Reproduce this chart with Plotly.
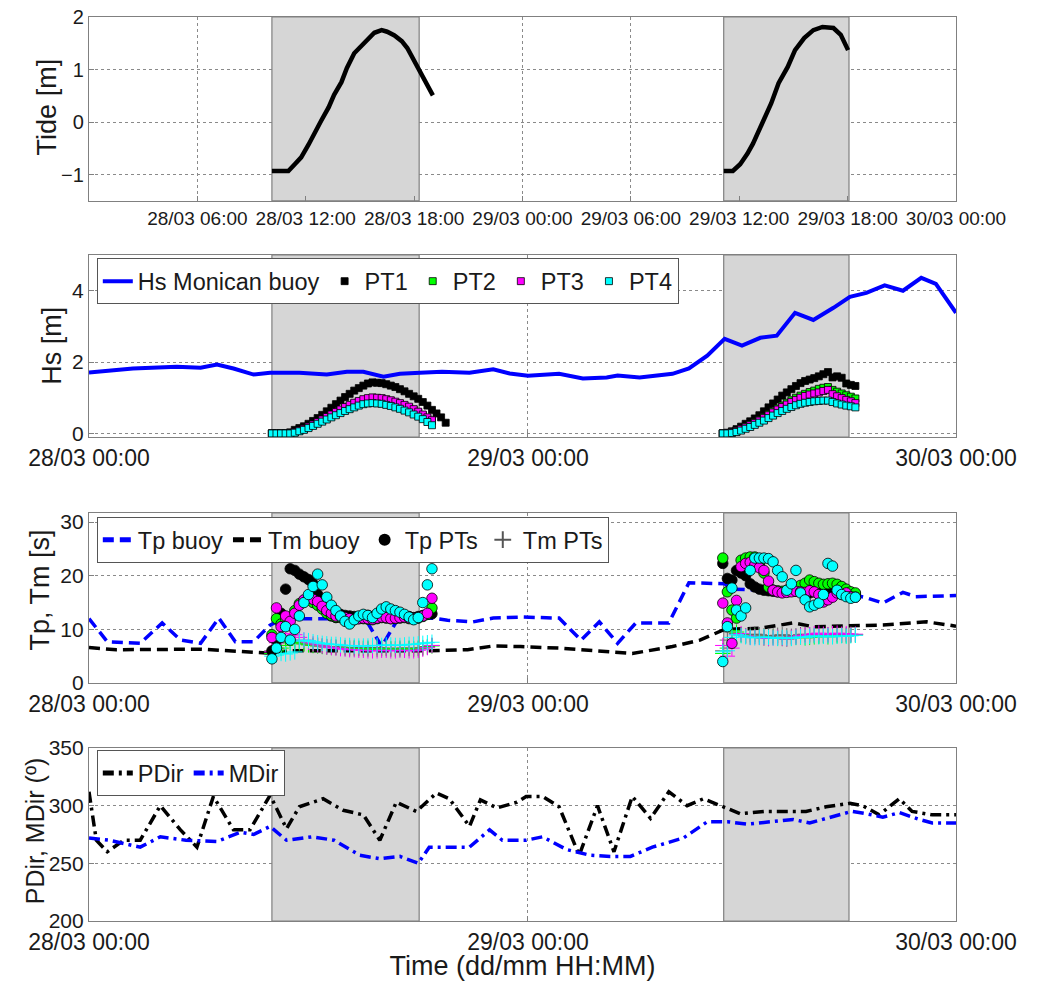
import numpy as np
import plotly.graph_objects as go

# ---------------- time base (hours since 28/03 00:00) ----------------
X_END = 47.4
EVENT_WINDOWS = [(10.0, 18.05), (34.7, 41.55)]

# PT sampling (every 15 min during each field session)
T_HS_1 = list(np.arange(10.0, 19.51, 0.25))
T_HS_2 = list(np.arange(34.65, 41.91, 0.25))
T_PER_1 = list(np.arange(10.0, 18.76, 0.25))
T_PER_2 = T_HS_2

# ---------------- tide ----------------
tide_t1 = [10.0, 10.5, 10.9, 11.25, 11.6, 12.0, 12.3, 12.7, 13.1, 13.4, 13.8, 14.1, 14.5,
           14.9, 15.25, 15.6, 16.0, 16.3, 16.7, 17.1, 17.4, 17.7, 18.0, 18.4, 18.8]
tide_v1 = [-0.93, -0.93, -0.93, -0.8, -0.67, -0.43, -0.22, 0.03, 0.28, 0.52, 0.76, 1.03, 1.31,
           1.46, 1.6, 1.7, 1.75, 1.72, 1.65, 1.54, 1.41, 1.22, 1.0, 0.76, 0.51]
tide_t2 = [34.7, 35.2, 35.6, 36.0, 36.3, 36.8, 37.3, 37.7, 38.2, 38.6, 39.1, 39.6, 40.1, 40.7, 41.1, 41.5]
tide_v2 = [-0.93, -0.93, -0.8, -0.6, -0.41, -0.03, 0.36, 0.74, 1.05, 1.37, 1.6, 1.75, 1.81, 1.79, 1.66, 1.37]

# ---------------- Hs ----------------
hs_buoy_t = [0.0, 2.4, 4.8, 6.1, 7.0, 7.9, 9.0, 9.9, 11.5, 13.0, 14.1, 15.0, 16.1, 17.0, 18.1, 19.3,
             20.8, 22.1, 23.0, 24.0, 25.7, 27.0, 28.3, 28.9, 30.1, 31.9, 32.8, 33.8, 34.75, 35.7,
             36.7, 37.6, 38.6, 39.6, 40.7, 41.6, 42.5, 43.5, 44.5, 45.5, 46.3, 47.4]
hs_buoy = [1.71, 1.82, 1.87, 1.84, 1.93, 1.82, 1.65, 1.70, 1.70, 1.65, 1.73, 1.73, 1.59, 1.67, 1.70,
           1.73, 1.70, 1.80, 1.68, 1.62, 1.67, 1.54, 1.57, 1.62, 1.57, 1.67, 1.82, 2.18, 2.65, 2.46,
           2.68, 2.74, 3.38, 3.18, 3.52, 3.83, 3.94, 4.15, 4.0, 4.36, 4.19, 3.38]

hs_pt1_a = [0, 0, 0, 0, 0.03, 0.1, 0.15, 0.2, 0.27, 0.35, 0.43, 0.52, 0.62, 0.72, 0.82, 0.92, 1.02,
            1.11, 1.2, 1.27, 1.34, 1.4, 1.43, 1.42, 1.41, 1.38, 1.34, 1.3, 1.24, 1.18, 1.11, 1.04,
            0.97, 0.88, 0.78, 0.66, 0.56, 0.45, 0.3]
hs_pt2_a = [0, 0, 0, 0, 0, 0.03, 0.07, 0.12, 0.18, 0.24, 0.3, 0.37, 0.44, 0.51, 0.58, 0.65, 0.71,
            0.77, 0.83, 0.88, 0.92, 0.95, 0.97, 0.97, 0.95, 0.93, 0.9, 0.86, 0.82, 0.77, 0.72, 0.66,
            0.59, 0.51, 0.43, 0.35]
hs_pt3_a = [0, 0, 0, 0, 0, 0.04, 0.08, 0.13, 0.19, 0.25, 0.32, 0.39, 0.46, 0.53, 0.6, 0.67, 0.74,
            0.8, 0.86, 0.91, 0.96, 0.99, 1.01, 1.0, 0.99, 0.96, 0.93, 0.89, 0.85, 0.8, 0.75, 0.68,
            0.61, 0.53, 0.45, 0.37]
hs_pt4_a = [0, 0, 0, 0, 0, 0.02, 0.06, 0.1, 0.15, 0.21, 0.27, 0.33, 0.39, 0.45, 0.51, 0.57, 0.63,
            0.68, 0.73, 0.78, 0.82, 0.84, 0.85, 0.84, 0.83, 0.8, 0.77, 0.73, 0.69, 0.64, 0.59, 0.53,
            0.47, 0.4, 0.32, 0.23]

hs_pt1_b = [0, 0.02, 0.06, 0.12, 0.19, 0.27, 0.34, 0.42, 0.51, 0.62, 0.73, 0.84, 0.95, 1.06, 1.15,
            1.24, 1.33, 1.41, 1.47, 1.51, 1.55, 1.6, 1.66, 1.72, 1.57, 1.6, 1.56, 1.4, 1.36, 1.33]
hs_pt2_b = [0, 0.01, 0.04, 0.08, 0.13, 0.19, 0.25, 0.31, 0.38, 0.46, 0.54, 0.62, 0.7, 0.78, 0.86,
            0.93, 1.0, 1.06, 1.11, 1.16, 1.2, 1.25, 1.28, 1.3, 1.22, 1.17, 1.12, 1.07, 1.03, 0.98]
hs_pt3_b = [0, 0.01, 0.03, 0.07, 0.12, 0.17, 0.23, 0.29, 0.36, 0.43, 0.51, 0.59, 0.67, 0.74, 0.81,
            0.88, 0.94, 1.0, 1.05, 1.09, 1.12, 1.15, 1.19, 1.22, 1.1, 1.04, 0.99, 0.94, 0.9, 0.85]
hs_pt4_b = [0, 0, 0.01, 0.04, 0.08, 0.13, 0.18, 0.24, 0.3, 0.36, 0.43, 0.5, 0.57, 0.63, 0.69,
            0.74, 0.79, 0.83, 0.86, 0.88, 0.9, 0.91, 0.92, 0.92, 0.88, 0.84, 0.81, 0.78, 0.76, 0.73]

# ---------------- Tp / Tm ----------------
tp_buoy_t = [0.0, 1.0, 2.8, 4.0, 5.0, 6.1, 7.1, 8.0, 9.0, 9.9, 10.6, 15.1, 16.0, 16.9, 18.8, 19.6,
             21.0, 22.1, 23.6, 25.7, 26.9, 27.9, 28.9, 29.9, 31.7, 32.8, 34.75, 35.2, 37.0, 39.0,
             41.0, 41.8, 42.5, 43.4, 44.5, 45.2, 47.4]
tp_buoy = [12.0, 7.7, 7.4, 11.2, 8.0, 7.4, 12.1, 7.7, 7.7, 10.8, 12.0, 12.0, 6.8, 12.0, 12.1, 11.7,
           11.4, 12.1, 12.3, 12.1, 8.0, 11.4, 7.4, 11.2, 11.2, 18.7, 18.5, 17.5, 17.3, 17.2, 17.0,
           16.4, 15.9, 14.9, 16.9, 16.1, 16.3]
tm_buoy_t = [0.0, 1.5, 6.1, 9.7, 11.0, 18.3, 20.7, 22.1, 23.6, 25.7, 29.7, 31.9, 33.4, 34.75, 36.7,
             38.5, 39.6, 41.6, 43.4, 45.8, 47.4]
tm_buoy = [6.6, 6.2, 6.3, 5.6, 6.0, 6.0, 6.2, 6.9, 6.8, 6.5, 5.5, 6.8, 8.0, 10.0, 10.2, 11.2, 10.5,
           10.6, 10.8, 11.4, 10.6]

tp_pt1_a = [6.0, 8.0, 13.0, 17.5, 21.3, 21.0, 20.3, 19.8, 19.3, 18.5, 16.5, 15.0, 13.5, 12.5, 12.2,
            12.8, 12.6, 12.5, 12.4, 12.3, 12.5, 12.6, 12.4, 12.2, 12.3, 12.5, 12.6, 12.4, 12.3, 12.5,
            12.4, 12.2, 12.4, 12.6, 12.8, 12.9]
tp_pt2_a = [9.0, 12.0, 11.0, 12.0, 12.0, 13.5, 14.8, 15.4, 15.5, 15.0, 14.5, 13.8, 13.0, 12.6, 12.3,
            12.2, 12.0, 11.9, 11.9, 12.0, 12.0, 11.9, 11.8, 12.0, 12.2, 12.1, 12.0, 12.0, 12.1, 12.2,
            12.0, 11.9, 12.1, 12.4, 12.8, 14.0]
tp_pt3_a = [8.5, 14.0, 10.5, 12.5, 11.5, 13.0, 14.5, 15.5, 15.8, 15.6, 15.2, 14.3, 13.5, 13.0, 12.5,
            12.4, 12.2, 12.0, 11.8, 12.0, 12.1, 12.0, 11.9, 12.1, 12.3, 12.2, 12.0, 12.1, 12.2, 12.3,
            12.1, 12.0, 12.2, 12.5, 13.0, 15.8]
tp_pt4_a = [4.5, 6.5, 8.5, 10.5, 8.0, 10.0, 12.5, 15.0, 16.5, 18.0, 20.3, 18.3, 16.0, 14.5, 13.5,
            12.5, 11.5, 11.0, 11.8, 12.5, 12.8, 12.6, 12.2, 13.0, 13.8, 14.2, 13.8, 13.5, 13.2, 12.8,
            12.3, 11.8, 12.2, 15.0, 18.3, 21.3]

tm_pt1_a = [6.0, 6.5, 7.0, 7.5, 8.0, 7.8, 7.5, 7.3, 7.2, 7.0, 7.0, 6.9, 6.8, 6.8, 6.7, 6.7, 6.6, 6.6,
            6.6, 6.5, 6.5, 6.5, 6.6, 6.6, 6.5, 6.5, 6.4, 6.4, 6.5, 6.5, 6.5, 6.4, 6.5, 6.6, 6.8, 7.0]
tm_pt2_a = [5.5, 6.0, 6.5, 7.0, 7.5, 7.6, 7.5, 7.3, 7.1, 7.0, 6.9, 6.8, 6.7, 6.6, 6.6, 6.5, 6.5, 6.4,
            6.4, 6.4, 6.4, 6.3, 6.3, 6.3, 6.4, 6.4, 6.3, 6.3, 6.3, 6.4, 6.4, 6.3, 6.4, 6.5, 6.7, 6.9]
tm_pt3_a = [5.8, 7.5, 8.5, 9.2, 8.8, 9.0, 8.5, 8.0, 7.6, 7.3, 7.1, 6.9, 6.7, 6.6, 6.5, 6.4, 6.3, 6.2,
            6.2, 6.1, 6.1, 6.0, 6.0, 6.0, 6.1, 6.1, 6.0, 6.0, 6.1, 6.1, 6.0, 6.0, 6.1, 6.3, 6.6, 7.0]
tm_pt4_a = [5.0, 5.2, 5.5, 5.4, 5.6, 5.8, 7.8, 8.0, 7.9, 7.7, 7.5, 7.4, 7.3, 7.2, 7.2, 7.1, 7.0, 7.0,
            6.9, 6.9, 6.9, 6.9, 7.0, 7.0, 7.0, 7.1, 7.1, 7.0, 7.0, 7.1, 7.2, 7.2, 7.3, 7.4, 7.5, 7.6]

tp_pt1_b = [22.3, 19.5, 19.2, 21.0, 20.5, 20.0, 18.5, 17.9, 17.5, 17.3, 17.2, 17.1, 17.0, 17.0, 17.1,
            17.2, 17.1, 17.0, 16.9, 16.8, 17.0, 17.1, 17.0, 16.8, 16.7, 16.8, 16.9, 16.8, 16.7, 16.6]
tp_pt2_b = [23.3, 17.0, 13.6, 12.1, 22.9, 23.3, 23.5, 23.5, 22.0, 20.5, 17.9, 17.3, 17.2, 17.1, 17.3,
            17.5, 17.8, 18.2, 18.6, 19.2, 18.9, 18.6, 18.4, 18.5, 18.6, 18.4, 18.0, 17.5, 17.0, 16.8]
tp_pt3_b = [14.9, 11.2, 7.4, 15.4, 21.7, 22.3, 22.5, 22.0, 21.5, 21.0, 19.0, 17.3, 17.0, 16.8, 16.9,
            17.0, 17.1, 17.0, 16.9, 17.2, 17.0, 16.5, 15.1, 15.5, 16.0, 16.8, 16.5, 16.8, 16.1, 16.0]
tp_pt4_b = [4.0, 10.5, 17.7, 13.6, 12.5, 14.0, 21.0, 23.3, 23.3, 23.3, 23.2, 22.6, 21.0, 19.8, 17.3,
            18.5, 21.0, 16.8, 15.5, 14.2, 14.5, 14.9, 16.5, 22.3, 21.8, 17.3, 16.5, 16.1, 15.8, 16.0]

tm_pt1_b = [6.0, 8.0, 9.5, 9.2, 9.0, 8.8, 9.0, 9.1, 9.0, 8.8, 8.7, 8.8, 8.9, 9.0, 8.8, 8.7, 8.8, 9.0,
            9.1, 9.0, 8.9, 8.8, 8.9, 9.0, 9.1, 9.0, 8.9, 9.0, 9.1, 9.0]
tm_pt2_b = [5.5, 6.5, 9.8, 9.5, 9.0, 8.8, 8.6, 8.7, 8.6, 8.4, 8.3, 8.5, 8.4, 8.3, 8.2, 8.4, 8.5, 8.6,
            8.4, 8.5, 8.6, 8.7, 8.8, 8.6, 8.7, 8.8, 8.9, 8.8, 8.9, 9.0]
tm_pt3_b = [7.0, 5.0, 6.5, 9.0, 9.2, 8.8, 8.5, 8.6, 8.5, 8.4, 8.3, 8.4, 8.5, 8.3, 8.2, 8.5, 8.6, 8.8,
            8.9, 9.0, 9.2, 9.3, 9.1, 9.0, 9.2, 9.3, 9.1, 9.2, 9.0, 9.1]
tm_pt4_b = [5.8, 6.0, 8.5, 9.0, 8.8, 8.6, 8.5, 8.4, 8.5, 8.6, 8.5, 8.4, 8.3, 8.5, 8.4, 8.3, 8.5, 8.6,
            8.5, 8.7, 8.8, 8.6, 8.7, 8.8, 8.6, 8.7, 8.8, 8.7, 8.8, 8.9]

# ---------------- directions ----------------
pdir_t = [0.0, 0.4, 1.0, 1.9, 2.8, 3.9, 5.0, 5.9, 6.8, 7.9, 8.8, 9.9, 10.8, 11.5, 12.8, 13.9, 15.0,
          15.9, 16.8, 17.9, 19.0, 19.7, 20.8, 21.4, 22.3, 23.4, 23.9, 24.8, 25.7, 26.8, 27.8, 28.7,
          29.7, 30.7, 31.7, 32.7, 33.6, 34.5, 35.6, 37.0, 39.2, 40.3, 41.6, 42.3, 43.2, 44.3, 45.0,
          46.1, 47.4]
pdir = [312, 270, 260, 270, 270, 300, 279, 264, 308, 279, 279, 309, 280, 299, 306, 296, 292, 270,
        303, 295, 311, 306, 282, 305, 298, 303, 308, 308, 299, 257, 300, 260, 308, 289, 312, 300,
        306, 300, 293, 295, 295, 299, 302, 300, 292, 306, 295, 292, 292]
mdir_t = [0.0, 1.1, 2.8, 3.9, 5.3, 7.0, 8.3, 9.0, 9.9, 10.8, 12.2, 13.4, 14.8, 15.9, 17.0, 18.0, 18.6,
          19.4, 20.8, 21.9, 22.6, 23.9, 24.8, 26.1, 27.4, 28.5, 29.6, 30.8, 32.5, 33.8, 34.9, 36.0,
          37.4, 38.5, 39.4, 40.5, 41.7, 42.5, 43.4, 44.3, 45.4, 46.1, 47.4]
mdir = [272, 270, 264, 273, 270, 269, 277, 275, 282, 270, 273, 270, 257, 254, 256, 250, 264, 264, 264,
        279, 270, 270, 273, 262, 257, 256, 256, 264, 272, 286, 286, 284, 286, 288, 285, 290, 295, 293,
        290, 294, 288, 285, 285]

# ---------------- tick labels ----------------
top_ticktext = ["28/03 06:00", "28/03 12:00", "28/03 18:00", "29/03 00:00",
                "29/03 06:00", "29/03 12:00", "29/03 18:00", "30/03 00:00"]
# eight date ticks spread evenly up to the right-hand limit
top_tickvals = [X_END * (k + 1) / len(top_ticktext) for k in range(len(top_ticktext))]
day_tickvals = [0, 24, X_END]
day_ticktext = ["28/03 00:00", "29/03 00:00", "30/03 00:00"]

# ---------------- styling ----------------
FONT = "Liberation Sans, Arial, sans-serif"
TXT = "#1a1a1a"
BLUE = "#0000ff"
PT_COLORS = ["#000000", "#00ff00", "#ff00ff", "#00ffff"]
PT_NAMES = ["PT1", "PT2", "PT3", "PT4"]

Y_RANGES = {"": [-1.5, 2], "2": [-0.1, 5], "3": [0, 31.7], "4": [200, 350]}


def both(a_t, a_v, b_t, b_v):
    """Concatenate the two sessions of one sensor."""
    return list(a_t[:len(a_v)]) + list(b_t[:len(b_v)]), list(a_v) + list(b_v)


fig = go.Figure()

# shaded field sessions, drawn first so they sit above the grid but under the data
for ax, (lo, hi) in Y_RANGES.items():
    for x0, x1 in EVENT_WINDOWS:
        fig.add_trace(go.Scatter(x=[x0, x1, x1, x0, x0], y=[lo, lo, hi, hi, lo], mode="lines",
                                 fill="toself", fillcolor="#d6d6d6",
                                 line=dict(color="#808080", width=1.2), hoverinfo="skip",
                                 showlegend=False, xaxis="x" + ax, yaxis="y" + ax))

# Panel 1: tide
for tt, vv in [(tide_t1, tide_v1), (tide_t2, tide_v2)]:
    fig.add_trace(go.Scatter(x=tt, y=vv, mode="lines", line=dict(color="black", width=4.5),
                             showlegend=False, xaxis="x", yaxis="y"))

# Panel 2: Hs
fig.add_trace(go.Scatter(x=hs_buoy_t, y=hs_buoy, mode="lines", name="Hs Monican buoy",
                         line=dict(color=BLUE, width=4), xaxis="x2", yaxis="y2", legend="legend"))
hs_sets = [(hs_pt1_a, hs_pt1_b), (hs_pt2_a, hs_pt2_b), (hs_pt3_a, hs_pt3_b), (hs_pt4_a, hs_pt4_b)]
for (a, b), col, nm in zip(hs_sets, PT_COLORS, PT_NAMES):
    xx, yy = both(T_HS_1, a, T_HS_2, b)
    fig.add_trace(go.Scatter(x=xx, y=yy, mode="markers", name=nm,
                             marker=dict(symbol="square", size=7, color=col,
                                         line=dict(color="black", width=0.8)),
                             xaxis="x2", yaxis="y2", legend="legend"))

# Panel 3: Tp / Tm
fig.add_trace(go.Scatter(x=tp_buoy_t, y=tp_buoy, mode="lines", name="Tp buoy",
                         line=dict(color=BLUE, width=3.5, dash="11px,6px"),
                         xaxis="x3", yaxis="y3", legend="legend2"))
fig.add_trace(go.Scatter(x=tm_buoy_t, y=tm_buoy, mode="lines", name="Tm buoy",
                         line=dict(color="black", width=3.5, dash="11px,6px"),
                         xaxis="x3", yaxis="y3", legend="legend2"))
tm_sets = [(tm_pt1_a, tm_pt1_b), (tm_pt2_a, tm_pt2_b), (tm_pt3_a, tm_pt3_b), (tm_pt4_a, tm_pt4_b)]
for (a, b), col in zip(tm_sets, PT_COLORS):
    xx, yy = both(T_PER_1, a, T_PER_2, b)
    fig.add_trace(go.Scatter(x=xx, y=yy, mode="markers", showlegend=False,
                             marker=dict(symbol="cross-thin", size=11,
                                         line=dict(color=col if col != "#000000" else "#666666", width=1)),
                             xaxis="x3", yaxis="y3"))
tp_sets = [(tp_pt1_a, tp_pt1_b), (tp_pt2_a, tp_pt2_b), (tp_pt3_a, tp_pt3_b), (tp_pt4_a, tp_pt4_b)]
for (a, b), col in zip(tp_sets, PT_COLORS):
    xx, yy = both(T_PER_1, a, T_PER_2, b)
    fig.add_trace(go.Scatter(x=xx, y=yy, mode="markers", showlegend=False,
                             marker=dict(symbol="circle", size=10.5, color=col,
                                         line=dict(color="black", width=0.8)),
                             xaxis="x3", yaxis="y3"))
# legend keys for the PT period series
fig.add_trace(go.Scatter(x=[None], y=[None], mode="markers", name="Tp PTs",
                         marker=dict(symbol="circle", size=8, color="black"),
                         xaxis="x3", yaxis="y3", legend="legend2"))
fig.add_trace(go.Scatter(x=[None], y=[None], mode="markers", name="Tm PTs",
                         marker=dict(symbol="cross-thin", size=14, line=dict(color="#555555", width=1)),
                         xaxis="x3", yaxis="y3", legend="legend2"))

# Panel 4: directions
fig.add_trace(go.Scatter(x=pdir_t, y=pdir, mode="lines", name="PDir",
                         line=dict(color="black", width=3.5, dash="11px,5px,3px,5px"),
                         xaxis="x4", yaxis="y4", legend="legend3"))
fig.add_trace(go.Scatter(x=mdir_t, y=mdir, mode="lines", name="MDir",
                         line=dict(color=BLUE, width=3.5, dash="11px,5px,3px,5px"),
                         xaxis="x4", yaxis="y4", legend="legend3"))

AX = dict(showline=True, linecolor="#808080", linewidth=1.2, mirror=True, ticks="inside",
          tickcolor="#808080", ticklen=5, showgrid=True, gridcolor="#8a8a8a", griddash="dot",
          gridwidth=1, zeroline=False, automargin=False, tickfont=dict(size=21, color=TXT))

domains = {"": [0.7965, 1.0], "2": [0.5354, 0.7367], "3": [0.2633, 0.4513], "4": [0.0, 0.1914]}


def xax(tv, tt, size, anchor, **kw):
    d = dict(AX)
    d.update(range=[0, X_END], tickmode="array", tickvals=tv, ticktext=tt, domain=[0, 1],
             anchor=anchor, tickangle=0, tickfont=dict(size=size, color=TXT))
    d.update(kw)
    return d


def yax(key, tv, tsize=21):
    d = dict(AX)
    d.update(range=Y_RANGES[key], tickmode="array", tickvals=tv, domain=domains[key],
             tickfont=dict(size=tsize, color=TXT))
    return d


# y-axis titles placed beside each panel (paper coords)
y_titles = [("Tide [m]", -0.048, (921 - 107) / 904, 27), ("Hs [m]", -0.043, (921 - 346) / 904, 27),
            ("Tp, Tm [s]", -0.057, (921 - 590) / 904, 27),
            ("PDir, MDir (º)", -0.062, (921 - 831) / 904, 25)]
annotations = [dict(text=t, x=x, y=y, xref="paper", yref="paper", showarrow=False,
                    textangle=-90, xanchor="center", yanchor="middle",
                    font=dict(size=s, color=TXT, family=FONT)) for t, x, y, s in y_titles]

LEG = dict(orientation="h", xref="paper", yref="paper", xanchor="left", yanchor="top",
           bgcolor="white", bordercolor="#555555", borderwidth=1,
           font=dict(size=23.5, color=TXT), itemsizing="constant")

fig.update_layout(
    width=1038, height=981,
    margin=dict(l=89, r=82, t=17, b=60),
    paper_bgcolor="white", plot_bgcolor="white",
    font=dict(family=FONT, color=TXT),
    annotations=annotations,
    xaxis=xax(top_tickvals, top_ticktext, 19, "y"),
    xaxis2=xax(day_tickvals, day_ticktext, 23, "y2"),
    xaxis3=xax(day_tickvals, day_ticktext, 23, "y3"),
    xaxis4=xax(day_tickvals, day_ticktext, 23, "y4",
               title=dict(text="Time (dd/mm HH:MM)", font=dict(size=27, color=TXT), standoff=4)),
    yaxis=yax("", [-1, 0, 1, 2], tsize=20),
    yaxis2=yax("2", [0, 2, 4]),
    yaxis3=yax("3", [0, 10, 20, 30]),
    yaxis4=yax("4", [200, 250, 300, 350]),
    legend=dict(LEG, x=0.009, y=0.733, itemsizing="trace"),
    legend2=dict(LEG, x=0.009, y=0.447),
    legend3=dict(LEG, x=0.009, y=0.189),
)

fig.write_html("out.html")
